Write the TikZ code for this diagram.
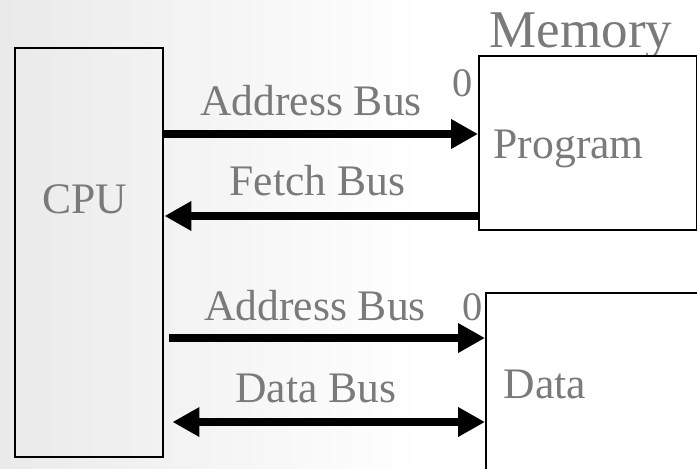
\documentclass[tikz,border=0pt]{standalone}
\usepackage{fontspec}
\setmainfont{Liberation Serif}
\usetikzlibrary{arrows.meta}
\definecolor{labelgray}{RGB}{122,122,122}
\definecolor{bgleft}{RGB}{234,234,234}

\begin{document}
\begin{tikzpicture}[
    box/.style={draw=black, line width=0.7pt, fill=white, rectangle, inner sep=0pt, anchor=north west},
    lbl/.style={text=labelgray, font=\fontsize{12.4}{14}\selectfont, anchor=base, inner sep=0pt},
    bus/.style={line width=2pt, -{Triangle[length=2.7mm,width=2.8mm]}},
    ]
    % background
    \clip (0,0) rectangle (6.97,-4.68);
    \fill[white] (0,0) rectangle (6.97,-4.68);
    \shade[left color=bgleft, right color=white] (0,0) rectangle (4.2,-4.68);

    % CPU
    \node[box, fill=none, minimum width=1.48cm, minimum height=4.09cm] (cpu) at (0.14,-0.47) {};
    \node[lbl] (cpulbl) at (0.845,-2.13) {CPU};

    % Memory
    \node[lbl, font=\fontsize{15.1}{18}\selectfont] (mem) at (5.81,-0.48) {Memory};
    \node[box, minimum width=2.18cm, minimum height=1.74cm] (prog) at (4.78,-0.55) {};
    \node[lbl, anchor=base west] (proglbl) at (4.93,-1.58) {Program};
    \node[box, minimum width=2.3cm, minimum height=2.0cm] (data) at (4.85,-2.92) {};
    \node[lbl, anchor=base west] (datalbl) at (5.03,-3.98) {Data};
    \node[lbl, font=\fontsize{11.5}{14}\selectfont] (zero1) at (4.625,-0.97) {0};
    \node[lbl, font=\fontsize{11.5}{14}\selectfont] (zero2) at (4.725,-3.20) {0};

    % Buses
    \node[lbl] (addr1) at (3.11,-1.15) {Address Bus};
    \node[lbl] (fetch) at (3.175,-1.95) {Fetch Bus};
    \node[lbl] (addr2) at (3.15,-3.20) {Address Bus};
    \node[lbl] (dbus) at (3.16,-4.02) {Data Bus};

    \draw[bus] (cpu.east |- 0,-1.34) -- (prog.west |- 0,-1.34);
    \draw[bus] (prog.west |- 0,-2.16) -- (cpu.east |- 0,-2.16);
    \draw[bus, shorten <=0.05cm] (cpu.east |- 0,-3.38) -- (data.west |- 0,-3.38);
    \draw[bus, {Triangle[length=2.7mm,width=2.8mm]}-{Triangle[length=2.7mm,width=2.8mm]}, shorten <=0.08cm] (cpu.east |- 0,-4.22) -- (data.west |- 0,-4.22);
\end{tikzpicture}
\end{document}
